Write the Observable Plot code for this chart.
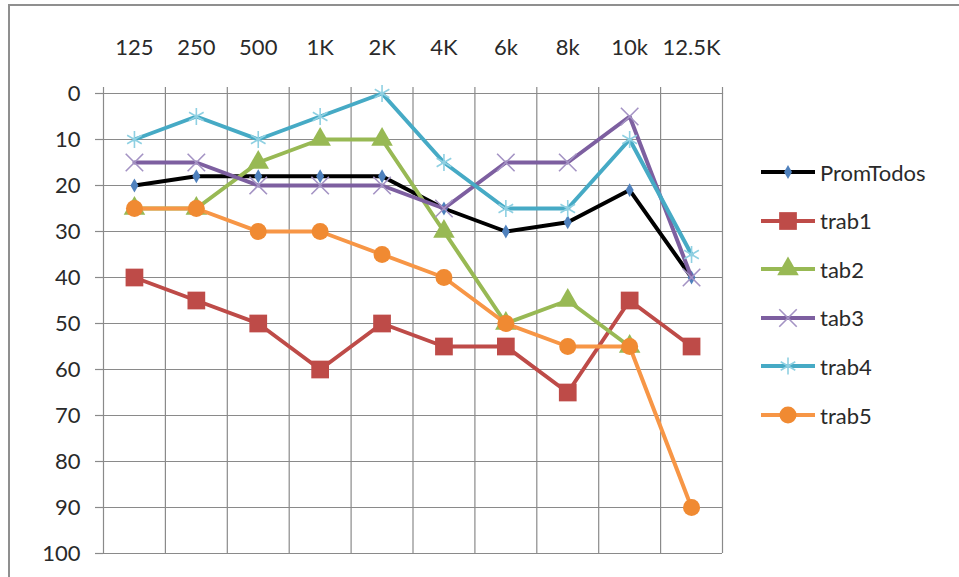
<!DOCTYPE html>
<html>
<head>
<meta charset="utf-8">
<script src="https://cdn.jsdelivr.net/npm/d3@7"></script>
<script src="https://cdn.jsdelivr.net/npm/@observablehq/plot@0.6"></script>
<style>
  body { margin: 0; background: #fff; }
  #wrap { position: relative; width: 959px; height: 577px; overflow: hidden; font-family: Lato, "Open Sans", sans-serif; }
  #frame { position: absolute; left: 8px; top: 4px; width: 1200px; height: 800px;
           border-top: 2px solid #8f8f8f; border-left: 2px solid #8f8f8f; pointer-events: none; }
  #chart { position: absolute; left: 0; top: 0; }
  #legend { position: absolute; left: 760px; top: 0; }
  .item { position: absolute; left: 0; display: flex; align-items: center; white-space: nowrap;
          font-size: 22px; color: #2a2a2a; }
  .item svg { margin-right: 4px; }
</style>
</head>
<body>
<div id="wrap">
  <div id="chart"></div>
  <div id="legend"></div>
  <div id="frame"></div>
</div>
<script>
// Hearing thresholds per frequency (dB), one array per series
const categories = ["125", "250", "500", "1K", "2K", "4K", "6k", "8k", "10k", "12.5K"];
const seriesNames = ["PromTodos", "trab1", "tab2", "tab3", "trab4", "trab5"];
const promTodos = [20, 18, 18, 18, 18, 25, 30, 28, 21, 40];
const trab1 = [40, 45, 50, 60, 50, 55, 55, 65, 45, 55];
const tab2 = [25, 25, 15, 10, 10, 30, 50, 45, 55, null];
const tab3 = [15, 15, 20, 20, 20, 25, 15, 15, 5, 40];
const trab4 = [10, 5, 10, 5, 0, 15, 25, 25, 10, 35];
const trab5 = [25, 25, 30, 30, 35, 40, 50, 55, 55, 90];
const yTicks = [0, 10, 20, 30, 40, 50, 60, 70, 80, 90, 100];

const seriesValues = [promTodos, trab1, tab2, tab3, trab4, trab5];

// Line colour, marker shape, marker colour, marker radius, stroked-only marker?
const styles = [
  {line: "#000000", symbol: "diamond",  marker: "#4f81bd", r: 4.2, stroked: false},
  {line: "#be4b48", symbol: "square",   marker: "#be4b48", r: 10,  stroked: false},
  {line: "#98b954", symbol: "triangle", marker: "#98b954", r: 8,   stroked: false},
  {line: "#7d5fa0", symbol: "times",    marker: "#a493c4", r: 8,   stroked: true},
  {line: "#46aac5", symbol: "asterisk", marker: "#8fd0e2", r: 8,   stroked: true},
  {line: "#f79646", symbol: "circle",   marker: "#f08a32", r: 8.5, stroked: false}
];

// Long-format rows: x is the band centre (index + 0.5) on a linear 0..10 axis
const rows = [];
seriesNames.forEach((name, s) => {
  seriesValues[s].forEach((v, i) => rows.push({series: name, s, x: i + 0.5, y: v}));
});

const boundaries = d3.range(0, categories.length + 1);
const centers = categories.map((_, i) => i + 0.5);

const marks = [
  Plot.gridX(boundaries, {stroke: "#8a8a8a", strokeOpacity: 1, strokeWidth: 1.2}),
  Plot.gridY(yTicks, {stroke: "#8a8a8a", strokeOpacity: 1, strokeWidth: 1.2}),
  // short tick stubs at the category boundaries above the plot
  Plot.axisX(boundaries, {anchor: "top", label: null, tickSize: 7, tickFormat: () => "",
    stroke: "#8a8a8a", strokeWidth: 1.2}),
  Plot.axisX(centers, {anchor: "top", label: null, tickSize: 0, tickPadding: 39, fontSize: 22, fill: "#2a2a2a",
    tickFormat: v => categories[Math.round(v - 0.5)]}),
  Plot.axisY(yTicks, {anchor: "left", label: null, tickSize: 8, tickPadding: 15, fontSize: 22, fill: "#2a2a2a",
    stroke: "#8a8a8a", strokeWidth: 1.2})
];

seriesNames.forEach((name, s) => {
  const st = styles[s];
  const data = rows.filter(d => d.s === s);
  marks.push(Plot.line(data, {x: "x", y: "y", stroke: st.line, strokeWidth: 4, strokeLinejoin: "miter"}));
  const pts = data.filter(d => d.y != null);
  marks.push(Plot.dot(pts, st.stroked
    ? {x: "x", y: "y", symbol: () => st.symbol, r: st.r, stroke: st.marker, strokeWidth: 1.6, fill: "none"}
    : {x: "x", y: "y", symbol: () => st.symbol, r: st.r, fill: st.marker, stroke: "none"}));
});

const chart = Plot.plot({
  width: 959,
  height: 577,
  marginLeft: 103,
  marginRight: 237,
  marginTop: 93,
  marginBottom: 24,
  style: {background: "transparent", fontFamily: "Lato, 'Open Sans', sans-serif"},
  x: {type: "linear", domain: [0, categories.length], axis: null},
  y: {type: "linear", domain: [0, 100], reverse: true, axis: null},
  symbol: {type: "identity"},
  marks
});
document.getElementById("chart").append(chart);

// Legend to the right of the plot
const legend = d3.select("#legend");
const symbolTypes = {diamond: d3.symbolDiamond, square: d3.symbolSquare, triangle: d3.symbolTriangle,
  times: d3.symbolTimes, asterisk: d3.symbolAsterisk, circle: d3.symbolCircle};
seriesNames.forEach((name, s) => {
  const st = styles[s];
  const item = legend.append("div").attr("class", "item").style("top", (172 + s * 48.6 - 14) + "px");
  const svg = item.append("svg").attr("width", 56).attr("height", 28);
  svg.append("line").attr("x1", 1).attr("x2", 55).attr("y1", 14).attr("y2", 14)
    .attr("stroke", st.line).attr("stroke-width", 4);
  const path = d3.symbol(symbolTypes[st.symbol], Math.PI * st.r * st.r)();
  const p = svg.append("path").attr("d", path).attr("transform", "translate(28,14)");
  if (st.stroked) p.attr("fill", "none").attr("stroke", st.marker).attr("stroke-width", 1.6);
  else p.attr("fill", st.marker);
  item.append("span").text(name);
});
</script>
</body>
</html>
